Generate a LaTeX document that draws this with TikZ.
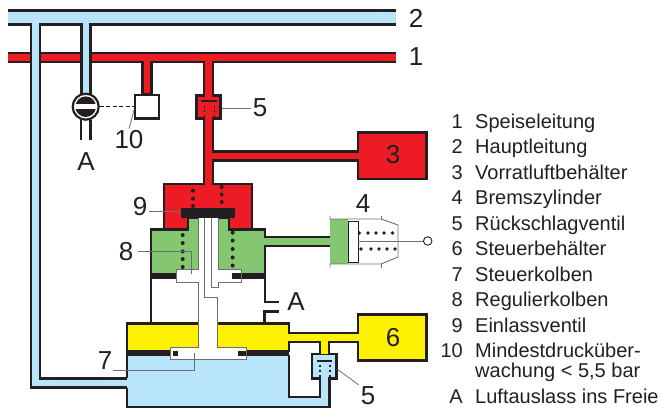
\documentclass[tikz,border=0pt]{standalone}
\usepackage{fontspec}
\setmainfont{Liberation Sans}
\usepackage{tikz}
\usetikzlibrary{calc}
\definecolor{lred}{RGB}{237,28,36}
\definecolor{lblue}{RGB}{185,229,251}
\definecolor{lyellow}{RGB}{255,242,0}
\definecolor{lgreen}{RGB}{133,199,112}
\definecolor{lblack}{RGB}{35,31,32}
\definecolor{lgray}{RGB}{109,110,112}
\tikzset{
  wall/.style    ={draw=lblack, line width=2.6pt, miter limit=10},
  pipeout/.style ={draw=lblack, line width=11.5pt},
  pipein/.style  ={line width=6.6pt},
  thinl/.style   ={draw=lgray, line width=0.9pt},
  leader/.style  ={draw=lgray, line width=0.8pt},
  bignum/.style  ={font=\fontsize{26}{26}\selectfont, text=lblack, inner sep=0pt, outer sep=2pt},
  legtxt/.style  ={font=\fontsize{20}{20}\selectfont, text=lblack, inner sep=0pt, anchor=base west},
  legnum/.style  ={font=\fontsize{20}{20}\selectfont, text=lblack, inner sep=0pt, anchor=base east},
  dotb/.style    ={fill=lblack}
}
\begin{document}
\begin{tikzpicture}[x=1pt,y=-1pt]
\useasboundingbox (0,0) rectangle (663,409);

% red lines
\draw[pipeout] (8,57.5) -- (396,57.5);
\draw[pipeout] (147,57.5) -- (147,94);
\draw[pipeout] (208.5,57.5) -- (208.5,186);
\draw[pipeout] (208.5,156) -- (358,156);
\draw[pipein, lred] (8,57.5) -- (396,57.5);
\draw[wall, fill=lred] (164,184) -- (252,184) -- (252,229) -- (229,229) -- (229,218)
  -- (188,218) -- (188,229) -- (164,229) -- cycle;
\draw[wall, fill=lred] (358,132.5) rectangle (426.5,179);
\draw[wall, fill=lred] (196.5,95.5) rectangle (220.5,118.5);
\draw[wall, fill=white] (135,95) rectangle (159,118.5);
\draw[pipein, lred] (147,57.5) -- (147,93.5);
\draw[pipein, lred] (208.5,57.5) -- (208.5,186);
\draw[pipein, lred] (208.5,156) -- (360,156);

% blue lines
\draw[pipeout, line width=16.5pt] (8,17.5) -- (396,17.5);
\draw[pipeout] (35.5,17.5) -- (35.5,383) -- (128,383);
\draw[pipeout] (86,17.5) -- (86,96);
\draw[pipein, line width=11.5pt, lblue] (8,17.5) -- (396,17.5);

% control reservoir and lower chamber
\fill[lblue] (127,355) -- (289,355) -- (289,397) -- (320,397) -- (320,379) -- (329.5,379)
  -- (329.5,407) -- (127,407) -- cycle;
\draw[pipein, lblue] (35.5,17.5) -- (35.5,383) -- (131,383);
\draw[pipein, lblue] (86,17.5) -- (86,96);
\draw[wall] (127,323) -- (127,378);
\draw[wall] (127,388) -- (127,407) -- (329.5,407) -- (329.5,379);
\draw[wall] (289,355) -- (289,397) -- (320,397) -- (320,379);

% yellow part
\draw[pipeout] (289,337.5) -- (358,337.5);
\draw[pipeout] (324.5,337.5) -- (324.5,354);
\draw[wall, fill=lyellow] (127,323.5) -- (289,323.5) -- (289,351) -- (127,351) -- cycle;
\draw[wall, fill=lyellow] (358,314.5) rectangle (426.5,360.5);
\draw[wall, fill=lblue] (312,354) rectangle (336.5,378.5);
\draw[pipein, lyellow] (286,337.5) -- (360,337.5);
\draw[pipein, lyellow] (324.5,337.5) -- (324.5,354);
\fill[lblue] (320.8,377) rectangle (328.2,381);
\fill[lblack] (127,350.5) rectangle (289,356);

% green part
\draw[pipeout] (265,241.5) -- (331,241.5);
\draw[wall, fill=lgreen] (151,229.5) -- (188,229.5) -- (188,218) -- (229,218) -- (229,229.5)
  -- (265,229.5) -- (265,275) -- (151,275) -- cycle;
\draw[pipein, lgreen] (262,241.5) -- (332,241.5);
\fill[lblack] (150,272.5) rectangle (266,278.5);
\draw[wall] (151,278) -- (151,325);
\draw[wall] (265,278) -- (265,302) -- (279,302);
\draw[wall] (279,311.7) -- (264.5,311.7) -- (264.5,325);

% pistons
\fill[white] (176,269.5) -- (198.7,269.5) -- (198.7,218) -- (218,218) -- (218,269.5)
  -- (241,269.5) -- (241,282) -- (218,282) -- (218,330) -- (198.7,330) -- (198.7,282)
  -- (176,282) -- cycle;
\fill[lblack] (232,272.5) rectangle (241,278.5);
\draw[thinl] (198.7,218) -- (198.7,269.5) -- (176,269.5) -- (176,282) -- (198.7,282);
\draw[thinl] (218,218) -- (218,269.5) -- (241,269.5) -- (241,282) -- (218,282) -- (218,287.7)
  -- (211,287.7) -- (211,218);
\fill[white] (170.3,347.7) -- (198.7,347.7) -- (198.7,320) -- (217.7,320) -- (217.7,347.7)
  -- (246.3,347.7) -- (246.3,359.3) -- (170.3,359.3) -- cycle;
\fill[lblack] (172.5,350.5) rectangle (178.3,356);
\fill[lblack] (237.7,350.5) rectangle (245.7,356);
\draw[thinl] (204.3,218) -- (204.3,297) -- (217.7,297) -- (217.7,347.7) -- (246.3,347.7)
  -- (246.3,359.3) -- (170.3,359.3) -- (170.3,347.7) -- (198.7,347.7) -- (198.7,282);
\fill[lblack] (181,207.7) rectangle (235,218);

% valve inserts and springs
\fill[lblack] (200.5,99.8) rectangle (217,102.3);
\fill[lblack] (317,359.6) rectangle (332,362.1);
\foreach \yy in {106,110.5,115} {
  \fill[dotb] (203.5,\yy) rectangle ++(1.8,2);
  \fill[dotb] (213.5,\yy) rectangle ++(1.8,2);
}
\foreach \yy in {365,370,375} {
  \fill[dotb] (318.8,\yy) rectangle ++(1.8,2);
  \fill[dotb] (329.3,\yy) rectangle ++(1.8,2);
}
\foreach \yy in {190.7,198.7,206} \fill[dotb] (193,\yy) circle (2);
\foreach \yy in {187,194.5,202} \fill[dotb] (221.7,\yy) circle (2);
\foreach \yy in {235,243,251.5,259,267} \fill[dotb] (182.7,\yy) circle (2);
\foreach \yy in {232.7,240.5,249,257.5,265.5} \fill[dotb] (232.7,\yy) circle (2);

% brake cylinder
\fill[lgreen] (330,219) rectangle (348,264);
\draw[pipein, lgreen] (325,241.5) -- (340,241.5);
\draw[thinl] (330,215.5) -- (330,219) -- (381,219) -- (398,225) -- (398,257) -- (381,264) -- (330,264) -- (330,267.5);
\draw[thinl] (381,215.5) -- (381,219);
\draw[thinl] (381,264) -- (381,267.5);
\draw[draw=lblack, line width=1pt, fill=white] (348.5,221) rectangle (358,262);
\node[circle, draw=lblack, line width=0.9pt, fill=white, minimum size=8.5pt, inner sep=0pt] (rodend) at (427.7,241) {};
\coordinate (rodstart) at (358,241);
\draw[thinl] (rodstart) -- (rodend);
\foreach \xx in {359.3,368,376,384,392.5} \fill[dotb] (\xx,233) circle (1.8);
\foreach \xx in {361,371,379,387,395} \fill[dotb] (\xx,249) circle (1.8);

% minimum pressure valve
\draw[draw=lblack, line width=2.2pt, fill=white] (85.7,106.7) circle (13);
\begin{scope}
  \clip (85.7,106.7) circle (10.3);
  \fill[lblack] (74,95) rectangle (98,104.3);
  \fill[lblack] (74,109) rectangle (98,119);
\end{scope}
\draw[wall] (81,120) -- (81,140);
\draw[wall] (90.5,120) -- (90.5,140);
\coordinate (mvr) at (99.5,106.7);
\coordinate (mbl) at (134,106.7);
\draw[draw=lblack, line width=1pt, dash pattern=on 4pt off 2.5pt] (mvr) -- (mbl);

% labels
\node[bignum] (l2) at (416,18) {2};
\node[bignum] (l1) at (416,57) {1};
\node[bignum] (l3) at (393,155) {3};
\node[bignum] (l4) at (363,204) {4};
\node[bignum] (l6) at (393,338) {6};
\node[bignum] (la) at (86,162) {A};
\node[bignum] (lb) at (296,302) {A};
\node[bignum] (l10) at (129,140) {10};
\node[bignum] (l5a) at (260,108) {5};
\node[bignum] (l5b) at (368,396) {5};
\node[bignum] (l9) at (140,207) {9};
\node[bignum] (l8) at (126,252) {8};
\node[bignum] (l7) at (105,361) {7};

\coordinate (c10) at (134,110);
\coordinate (c5a) at (222,108);
\coordinate (c5b) at (337,369);
\coordinate (c9) at (181,211.7);
\coordinate (c8) at (191,274);
\coordinate (c7) at (194.3,353);
\draw[leader] (l10.north) -- (c10);
\draw[leader] (l5a.west) -- (c5a);
\draw[leader] (l5b.north west) -- (c5b);
\draw[leader] (c9) -- (149,211.7);
\draw[leader] (138,251.7) -| (c8);
\draw[leader] (113,370.5) -| (c7);

% legend
\foreach \lnum/\ltxt/\yy in {1/Speiseleitung/128.3, 2/Hauptleitung/153.7, 3/Vorratluftbehälter/179.1,
    4/Bremszylinder/204.5, 5/Rückschlagventil/230, 6/Steuerbehälter/255.5, 7/Steuerkolben/281.2,
    8/Regulierkolben/306.7, 9/Einlassventil/332.3, 10/Mindestdrucküber-/357.3, A/Luftauslass ins Freie/403} {
  \node[legnum] (num\lnum) at (463,\yy) {\lnum};
  \node[legtxt] (txt\lnum) at (475,\yy) {\ltxt};
}
\node[legtxt] (txt10b) at (475,377.7) {wachung < 5,5 bar};
\end{tikzpicture}
\end{document}
